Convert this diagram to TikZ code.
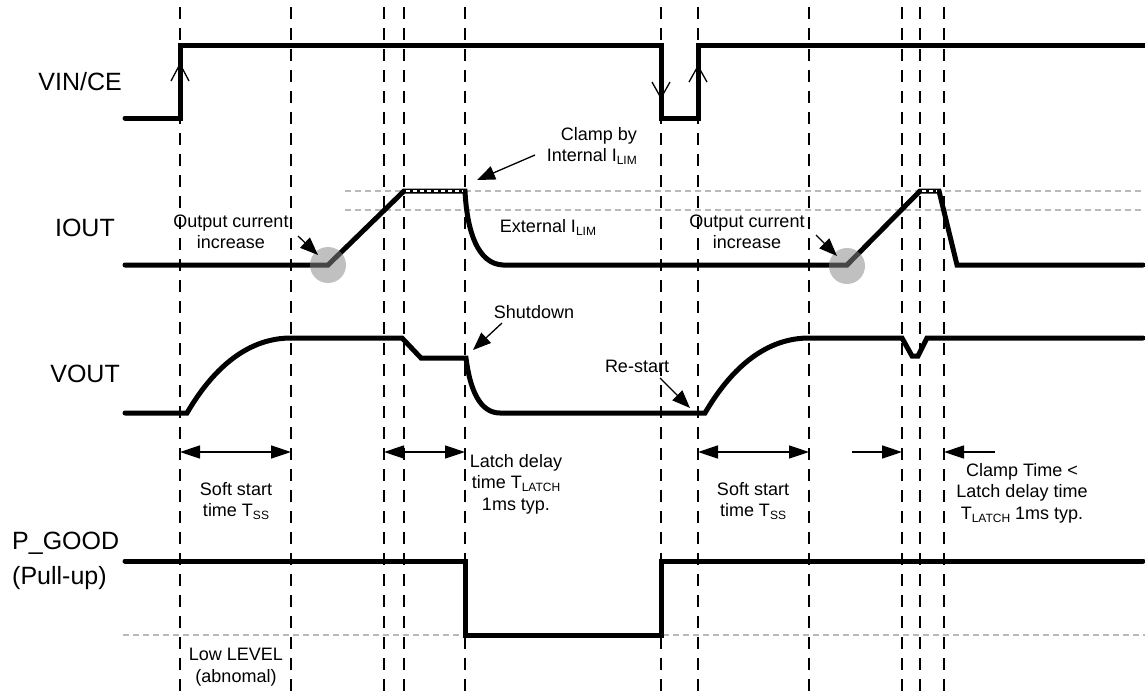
\documentclass[tikz,border=0pt]{standalone}
\usepackage{fontspec}
\setmainfont{Liberation Sans}
\usetikzlibrary{arrows.meta}
\definecolor{lgray}{RGB}{185,185,185}
\definecolor{spotc}{RGB}{135,135,135}
\newcommand{\lsub}[1]{\raisebox{-3pt}{\fontsize{12}{12}\selectfont #1}}
\begin{document}
\begin{tikzpicture}[x=1pt,y=-1pt,
 sig/.style={line width=5pt, line cap=round, line join=miter},
 vdash/.style={line width=1.3pt, dash pattern=on 12pt off 9pt},
 gdash/.style={line width=2pt, draw=lgray, dash pattern=on 6pt off 4pt},
 big/.style={font=\fontsize{25}{35}\selectfont, inner sep=0pt},
 lbl/.style={font=\fontsize{18}{21.5}\selectfont, align=center, inner sep=0pt},
 ann/.style={line width=1.3pt, -{Triangle[length=18pt,width=14pt]}},
 tarr/.style={line width=1.6pt, {Triangle[length=20pt,width=13pt]}-{Triangle[length=20pt,width=13pt]}},
 sarr/.style={line width=1.6pt, -{Triangle[length=20pt,width=13pt]}},
 chev/.style={line width=1.3pt},
 clampw/.style={white, line width=2pt, dash pattern=on 4pt off 3pt},
 spot/.style={fill=spotc, fill opacity=0.52, draw=none}
]
\useasboundingbox (0,0) rectangle (1145,691);
\fill[white] (0,0) rectangle (1145,691);
% vertical dashed time markers
\foreach \x in {180,291,384,404,465,661,698,809,902,920,944}
  \draw[vdash] (\x,7) -- (\x,691);
% gray reference levels
\draw[gdash] (345,191) -- (1145,191);
\draw[gdash] (345,210) -- (1145,210);
\draw[gdash] (123,635) -- (1145,635);
% VIN/CE
\draw[sig] (125,118) -- (180,118) -- (180,45) -- (661,45) -- (661,118) -- (698,118) -- (698,45) -- (1145,45);
\draw[chev] (171,81) -- (180,64) -- (189,81);
\draw[chev] (652,82) -- (661,98) -- (670,82);
\draw[chev] (689,82) -- (698,66) -- (707,82);
% IOUT
\draw[sig] (125,265) -- (328,265) -- (404,191) -- (465,191)
  .. controls (467,232) and (478,264) .. (503,265) -- (847,265) -- (920,191) -- (939,191) -- (957,265) -- (1143,265);
\draw[clampw] (406,191) -- (463,191);
\draw[clampw] (922,191) -- (937,191);
\fill[spot] (328,265) circle[radius=18];
\fill[spot] (847,266) circle[radius=18];
% VOUT
\draw[sig] (125,413) -- (187,413) .. controls (215,365) and (250,338) .. (291,338) -- (402,338) -- (421,358) -- (466,358)
  .. controls (470,390) and (480,413) .. (500,413) -- (705,413) .. controls (733,365) and (768,338) .. (809,338)
  -- (902,338) -- (912,356) -- (918,356) -- (927,338) -- (1143,338);
% P_GOOD
\draw[sig] (125,561) -- (465,561) -- (465,635) -- (661,635) -- (661,561) -- (1143,561);
% signal labels
\node[big, anchor=east] (vin) at (122,82) {VIN/CE};
\node[big, anchor=east] (iout) at (115,228) {IOUT};
\node[big, anchor=east] (vout) at (120,374) {VOUT};
\node[big, anchor=west, align=left] (pg) at (12,561) {P\_GOOD\\(Pull-up)};
% annotations
\node[lbl] (oc1) at (231,232) {Output current\\increase};
\node[lbl] (oc2) at (747,232) {Output current\\increase};
\coordinate (oc1s) at (298,236); \coordinate (oc1t) at (318,255);
\coordinate (oc2s) at (816,235); \coordinate (oc2t) at (837,256);
\draw[ann] (oc1s) -- (oc1t);
\draw[ann] (oc2s) -- (oc2t);
\node[lbl] (ext) at (548,227) {External I\lsub{LIM}};
\node[lbl, align=right, anchor=east] (clamp) at (637,146) {Clamp by\\Internal I\lsub{LIM}};
\coordinate (cls) at (535,155); \coordinate (clt) at (477,180);
\draw[ann] (cls) -- (clt);
\node[lbl] (sd) at (534,312) {Shutdown};
\coordinate (sds) at (502,323); \coordinate (sdt) at (473,350);
\draw[ann] (sds) -- (sdt);
\node[lbl] (rs) at (637,366) {Re-start};
\coordinate (rss) at (660,378); \coordinate (rst) at (690,408);
\draw[ann] (rss) -- (rst);
% time intervals
\coordinate (t1a) at (180,452); \coordinate (t1b) at (291,452);
\coordinate (t2a) at (384,452); \coordinate (t2b) at (465,452);
\coordinate (t3a) at (698,452); \coordinate (t3b) at (809,452);
\coordinate (t4a) at (852,452); \coordinate (t4b) at (902,452);
\coordinate (t5a) at (995,452); \coordinate (t5b) at (944,452);
\draw[tarr] (t1a) -- (t1b);
\draw[tarr] (t2a) -- (t2b);
\draw[tarr] (t3a) -- (t3b);
\draw[sarr] (t4a) -- (t4b);
\draw[sarr] (t5a) -- (t5b);
\node[lbl] (ss1) at (236,501) {Soft start\\time T\lsub{SS}};
\node[lbl] (ld) at (516,484) {Latch delay\\time T\lsub{LATCH}\\1ms typ.};
\node[lbl] (ss2) at (753,501) {Soft start\\time T\lsub{SS}};
\node[lbl] (ct) at (1022,493) {Clamp Time <\\Latch delay time\\T\lsub{LATCH} 1ms typ.};
\node[lbl] (low) at (236,667) {Low LEVEL\\(abnomal)};
\end{tikzpicture}
\end{document}
